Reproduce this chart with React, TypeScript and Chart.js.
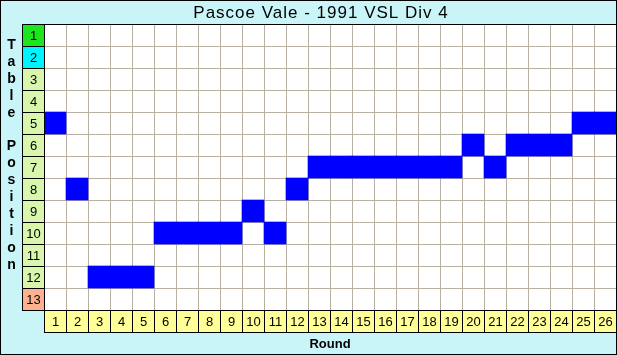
import { useEffect, useRef } from 'react';
import { Chart, registerables } from 'chart.js';

Chart.register(...registerables);

const chartTitle = 'Pascoe Vale - 1991 VSL Div 4';
const xTitle = 'Round';
const yTitle = 'Table Position';
const rounds = ['1','2','3','4','5','6','7','8','9','10','11','12','13','14','15','16','17','18','19','20','21','22','23','24','25','26'];
const positions = [5, 8, 12, 12, 12, 10, 10, 10, 10, 9, 10, 8, 7, 7, 7, 7, 7, 7, 7, 6, 7, 6, 6, 6, 5, 5];
const tableRows = ['1','2','3','4','5','6','7','8','9','10','11','12','13'];

const FONT = '"Liberation Sans", Arial, sans-serif';
const BG = '#c9f5f9';
const GRID = '#b8b0a2';
const BAR = '#0000ff';
const ROW_COLORS: Record<string, string> = { top: '#1ee61e', second: '#00f4ff', mid: '#d8f7ac', last: '#ffb08e' };
const COL_COLOR = '#ffff99';

function rowColor(i: number, n: number) {
  if (i === 0) return ROW_COLORS.top;
  if (i === 1) return ROW_COLORS.second;
  if (i === n - 1) return ROW_COLORS.last;
  return ROW_COLORS.mid;
}

const decorPlugin = {
  id: 'decor',
  beforeDraw(chart: any) {
    const { ctx, width, height, chartArea } = chart;
    ctx.save();
    ctx.fillStyle = BG;
    ctx.fillRect(0, 0, width, height);
    ctx.fillStyle = '#ffffff';
    ctx.fillRect(chartArea.left, chartArea.top, chartArea.right - chartArea.left, chartArea.bottom - chartArea.top);
    ctx.restore();
  },
  afterDraw(chart: any) {
    const { ctx, width, height, chartArea } = chart;
    const xs = chart.scales.x;
    const ys = chart.scales.y;
    ctx.save();
    // outer border
    ctx.strokeStyle = '#000000';
    ctx.lineWidth = 1;
    ctx.strokeRect(0.5, 0.5, width - 1, height - 1);

    // row label cells
    const cellW = xs.getPixelForValue(1) - xs.getPixelForValue(0);
    ctx.font = `13px ${FONT}`;
    ctx.textAlign = 'center';
    ctx.textBaseline = 'middle';
    tableRows.forEach((lab, i) => {
      const t = Math.round(ys.getPixelForValue(i));
      const b = Math.round(ys.getPixelForValue(i + 1));
      const l = Math.round(chartArea.left - cellW);
      const r = Math.round(chartArea.left);
      ctx.fillStyle = rowColor(i, tableRows.length);
      ctx.fillRect(l, t, r - l, b - t);
      ctx.strokeStyle = '#000000';
      ctx.strokeRect(l + 0.5, t + 0.5, r - l, b - t);
      ctx.fillStyle = '#000000';
      ctx.fillText(lab, (l + r) / 2 + 0.5, (t + b) / 2 + 1);
    });

    // column label cells
    rounds.forEach((lab, i) => {
      const c = xs.getPixelForValue(i);
      const l = Math.round(c - cellW / 2);
      const r = Math.round(c + cellW / 2);
      const t = Math.round(chartArea.bottom);
      const b = Math.round(chartArea.bottom + cellW);
      ctx.fillStyle = COL_COLOR;
      ctx.fillRect(l, t, r - l, b - t);
      ctx.strokeStyle = '#000000';
      ctx.strokeRect(l + 0.5, t + 0.5, r - l, b - t);
      ctx.fillStyle = '#000000';
      ctx.fillText(lab, (l + r) / 2 + 0.5, (t + b) / 2 + 1);
    });

    // plot border
    ctx.strokeStyle = '#000000';
    ctx.strokeRect(Math.round(chartArea.left) + 0.5, Math.round(chartArea.top) + 0.5,
      Math.round(chartArea.right - chartArea.left), Math.round(chartArea.bottom - chartArea.top));

    // title
    ctx.font = `17px ${FONT}`;
    ctx.textAlign = 'center';
    ctx.textBaseline = 'alphabetic';
    try { (ctx as any).letterSpacing = '1px'; } catch (e) { /* ignore */ }
    ctx.fillText(chartTitle, 321, 18);
    try { (ctx as any).letterSpacing = '0px'; } catch (e) { /* ignore */ }

    // x title
    ctx.font = `bold 13px ${FONT}`;
    ctx.fillText(xTitle, (chartArea.left + chartArea.right) / 2, 348);

    // y title stacked
    ctx.font = `bold 14px ${FONT}`;
    yTitle.split('').forEach((ch, i) => {
      if (ch !== ' ') ctx.fillText(ch, 11.5, 49 + i * 16.9);
    });
    ctx.restore();
  },
};

export default function App() {
  const ref = useRef<HTMLCanvasElement | null>(null);
  useEffect(() => {
    document.body.style.margin = '0';
    if (!ref.current) return;
    const chart = new Chart(ref.current, {
      type: 'bar',
      data: {
        labels: rounds,
        datasets: [
          {
            label: 'Position',
            data: positions.map((p) => [p - 1, p]) as any,
            backgroundColor: BAR,
            borderWidth: 0,
            barPercentage: 1,
            categoryPercentage: 1,
          },
        ],
      },
      options: {
        responsive: false,
        animation: false,
        events: [],
        layout: { padding: { left: 44, top: 24, right: 1, bottom: 45 } },
        plugins: { legend: { display: false }, tooltip: { enabled: false }, title: { display: false } },
        scales: {
          x: {
            type: 'category',
            offset: true,
            grid: { color: GRID, drawTicks: false, offset: true },
            border: { display: false },
            ticks: { display: false },
          },
          y: {
            type: 'linear',
            min: 0,
            max: 13,
            reverse: true,
            grid: { color: GRID, drawTicks: false },
            border: { display: false },
            ticks: { display: false, stepSize: 1 },
          },
        },
      },
      plugins: [decorPlugin],
    });
    return () => chart.destroy();
  }, []);
  return <canvas ref={ref} width={617} height={355} style={{ display: 'block' }} />;
}
